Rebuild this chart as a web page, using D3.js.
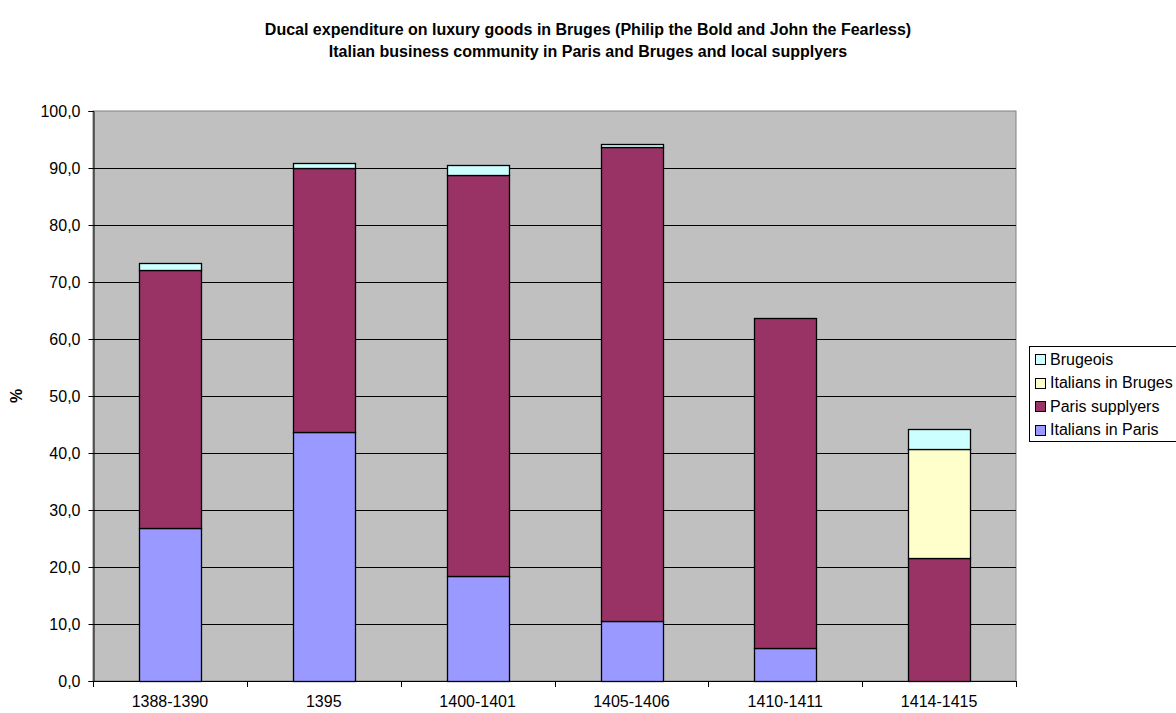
<!DOCTYPE html>
<html>
<head>
<meta charset="utf-8">
<script src="https://cdn.jsdelivr.net/npm/d3@7"></script>
<style>
  body { margin: 0; background: #fff; }
  svg text { font-family: "Liberation Sans", Arial, sans-serif; fill: #000; }
</style>
</head>
<body>
<script>
const periods = ["1388-1390", "1395", "1400-1401", "1405-1406", "1410-1411", "1414-1415"];
const italiansParis = [26.9, 43.6, 18.5, 10.5, 5.8, 0];
const parisSupplyers = [45.2, 46.4, 70.2, 83.1, 57.9, 21.5];
const italiansBruges = [0, 0, 0, 0, 0, 19.2];
const brugeois = [1.2, 0.8, 1.9, 0.6, 0, 3.5];
const yTicks = [0, 10, 20, 30, 40, 50, 60, 70, 80, 90, 100];

const seriesNames = ["Italians in Paris", "Paris supplyers", "Italians in Bruges", "Brugeois"];
const colors = ["#9999FF", "#993366", "#FFFFCC", "#CCFFFF"];

const w = 1176, h = 713;
const plotLeft = 93, plotRight = 1016, plotTop = 111, plotBottom = 681;

const svg = d3.select("body").append("svg")
  .attr("width", w)
  .attr("height", h);

// title
const title = svg.append("text")
  .attr("x", 588)
  .attr("text-anchor", "middle")
  .style("font-size", "16px")
  .style("font-weight", "bold");
title.append("tspan").attr("x", 588).attr("y", 35)
  .text("Ducal expenditure on luxury goods in Bruges (Philip the Bold and John the Fearless)");
title.append("tspan").attr("x", 588).attr("y", 57)
  .text("Italian business community in Paris and Bruges and local supplyers");

const rows = periods.map((p, i) => ({
  period: p,
  "Italians in Paris": italiansParis[i],
  "Paris supplyers": parisSupplyers[i],
  "Italians in Bruges": italiansBruges[i],
  "Brugeois": brugeois[i]
}));
const stacked = d3.stack().keys(seriesNames)(rows);

const xScale = d3.scaleBand().domain(periods).range([plotLeft, plotRight]).padding(0);
const yScale = d3.scaleLinear().domain([0, 100]).range([plotBottom, plotTop]);

// plot area
svg.append("rect")
  .attr("x", plotLeft).attr("y", plotTop)
  .attr("width", plotRight - plotLeft).attr("height", plotBottom - plotTop)
  .attr("fill", "#C0C0C0")
  .attr("stroke", "#808080");

// gridlines
svg.append("g").selectAll("line").data(yTicks.slice(1, -1)).enter().append("line")
  .attr("x1", plotLeft).attr("x2", plotRight)
  .attr("y1", d => Math.round(yScale(d)) + 0.5)
  .attr("y2", d => Math.round(yScale(d)) + 0.5)
  .attr("stroke", "#000");

// bars
const barW = xScale.bandwidth() * 0.4;
svg.append("g").selectAll("g").data(stacked).enter().append("g")
  .attr("fill", (d, i) => colors[i])
  .selectAll("rect").data(d => d.filter(s => s[1] - s[0] > 0)).enter().append("rect")
  .attr("x", d => Math.round(xScale(d.data.period) + (xScale.bandwidth() - barW) / 2) + 0.5)
  .attr("y", d => Math.round(yScale(d[1])) + 0.5)
  .attr("width", Math.round(barW))
  .attr("height", d => Math.round(yScale(d[0])) - Math.round(yScale(d[1])))
  .attr("stroke", "#000")
  .attr("stroke-width", 1.3);

// y axis
const yAxis = d3.axisLeft(yScale)
  .tickValues(yTicks)
  .tickSize(5)
  .tickPadding(8)
  .tickFormat(d => d3.format(".1f")(d).replace(".", ","));
svg.append("g").attr("transform", "translate(" + (plotLeft + 0.5) + ",0)").call(yAxis)
  .call(g => g.selectAll("text").style("font-size", "16px").attr("font-family", null))
  .call(g => g.selectAll("line,path").attr("stroke", "#000"));

// x axis
const xAxis = d3.axisBottom(xScale).tickSize(0).tickPadding(14);
svg.append("g").attr("transform", "translate(0," + (plotBottom + 0.5) + ")").call(xAxis)
  .call(g => g.selectAll("text").style("font-size", "16px").attr("font-family", null))
  .call(g => g.select(".domain").attr("d", "M" + plotLeft + ",0H" + plotRight).attr("stroke", "#000"));
svg.append("g").selectAll("line").data(d3.range(periods.length + 1)).enter().append("line")
  .attr("x1", i => Math.round(plotLeft + i * xScale.step()) + 0.5)
  .attr("x2", i => Math.round(plotLeft + i * xScale.step()) + 0.5)
  .attr("y1", plotBottom).attr("y2", plotBottom + 6)
  .attr("stroke", "#000");

// y label
svg.append("text")
  .attr("transform", "translate(22," + ((plotTop + plotBottom) / 2) + ") rotate(-90)")
  .attr("text-anchor", "middle")
  .style("font-size", "16px")
  .style("font-weight", "bold")
  .text("%");

// legend
const legend = svg.append("g").attr("transform", "translate(1029,346)");
legend.append("rect")
  .attr("x", 0.5).attr("y", 0.5)
  .attr("width", 160).attr("height", 95)
  .attr("fill", "#fff").attr("stroke", "#000");
const order = [3, 2, 1, 0];
order.forEach((si, r) => {
  const cy = 13 + r * 23.5;
  legend.append("rect")
    .attr("x", 6.5).attr("y", Math.round(cy - 5) + 0.5)
    .attr("width", 10).attr("height", 10)
    .attr("fill", colors[si]).attr("stroke", "#000");
  legend.append("text")
    .attr("x", 21).attr("y", cy)
    .attr("dy", "0.35em")
    .style("font-size", "16px")
    .text(seriesNames[si]);
});
</script>
</body>
</html>
